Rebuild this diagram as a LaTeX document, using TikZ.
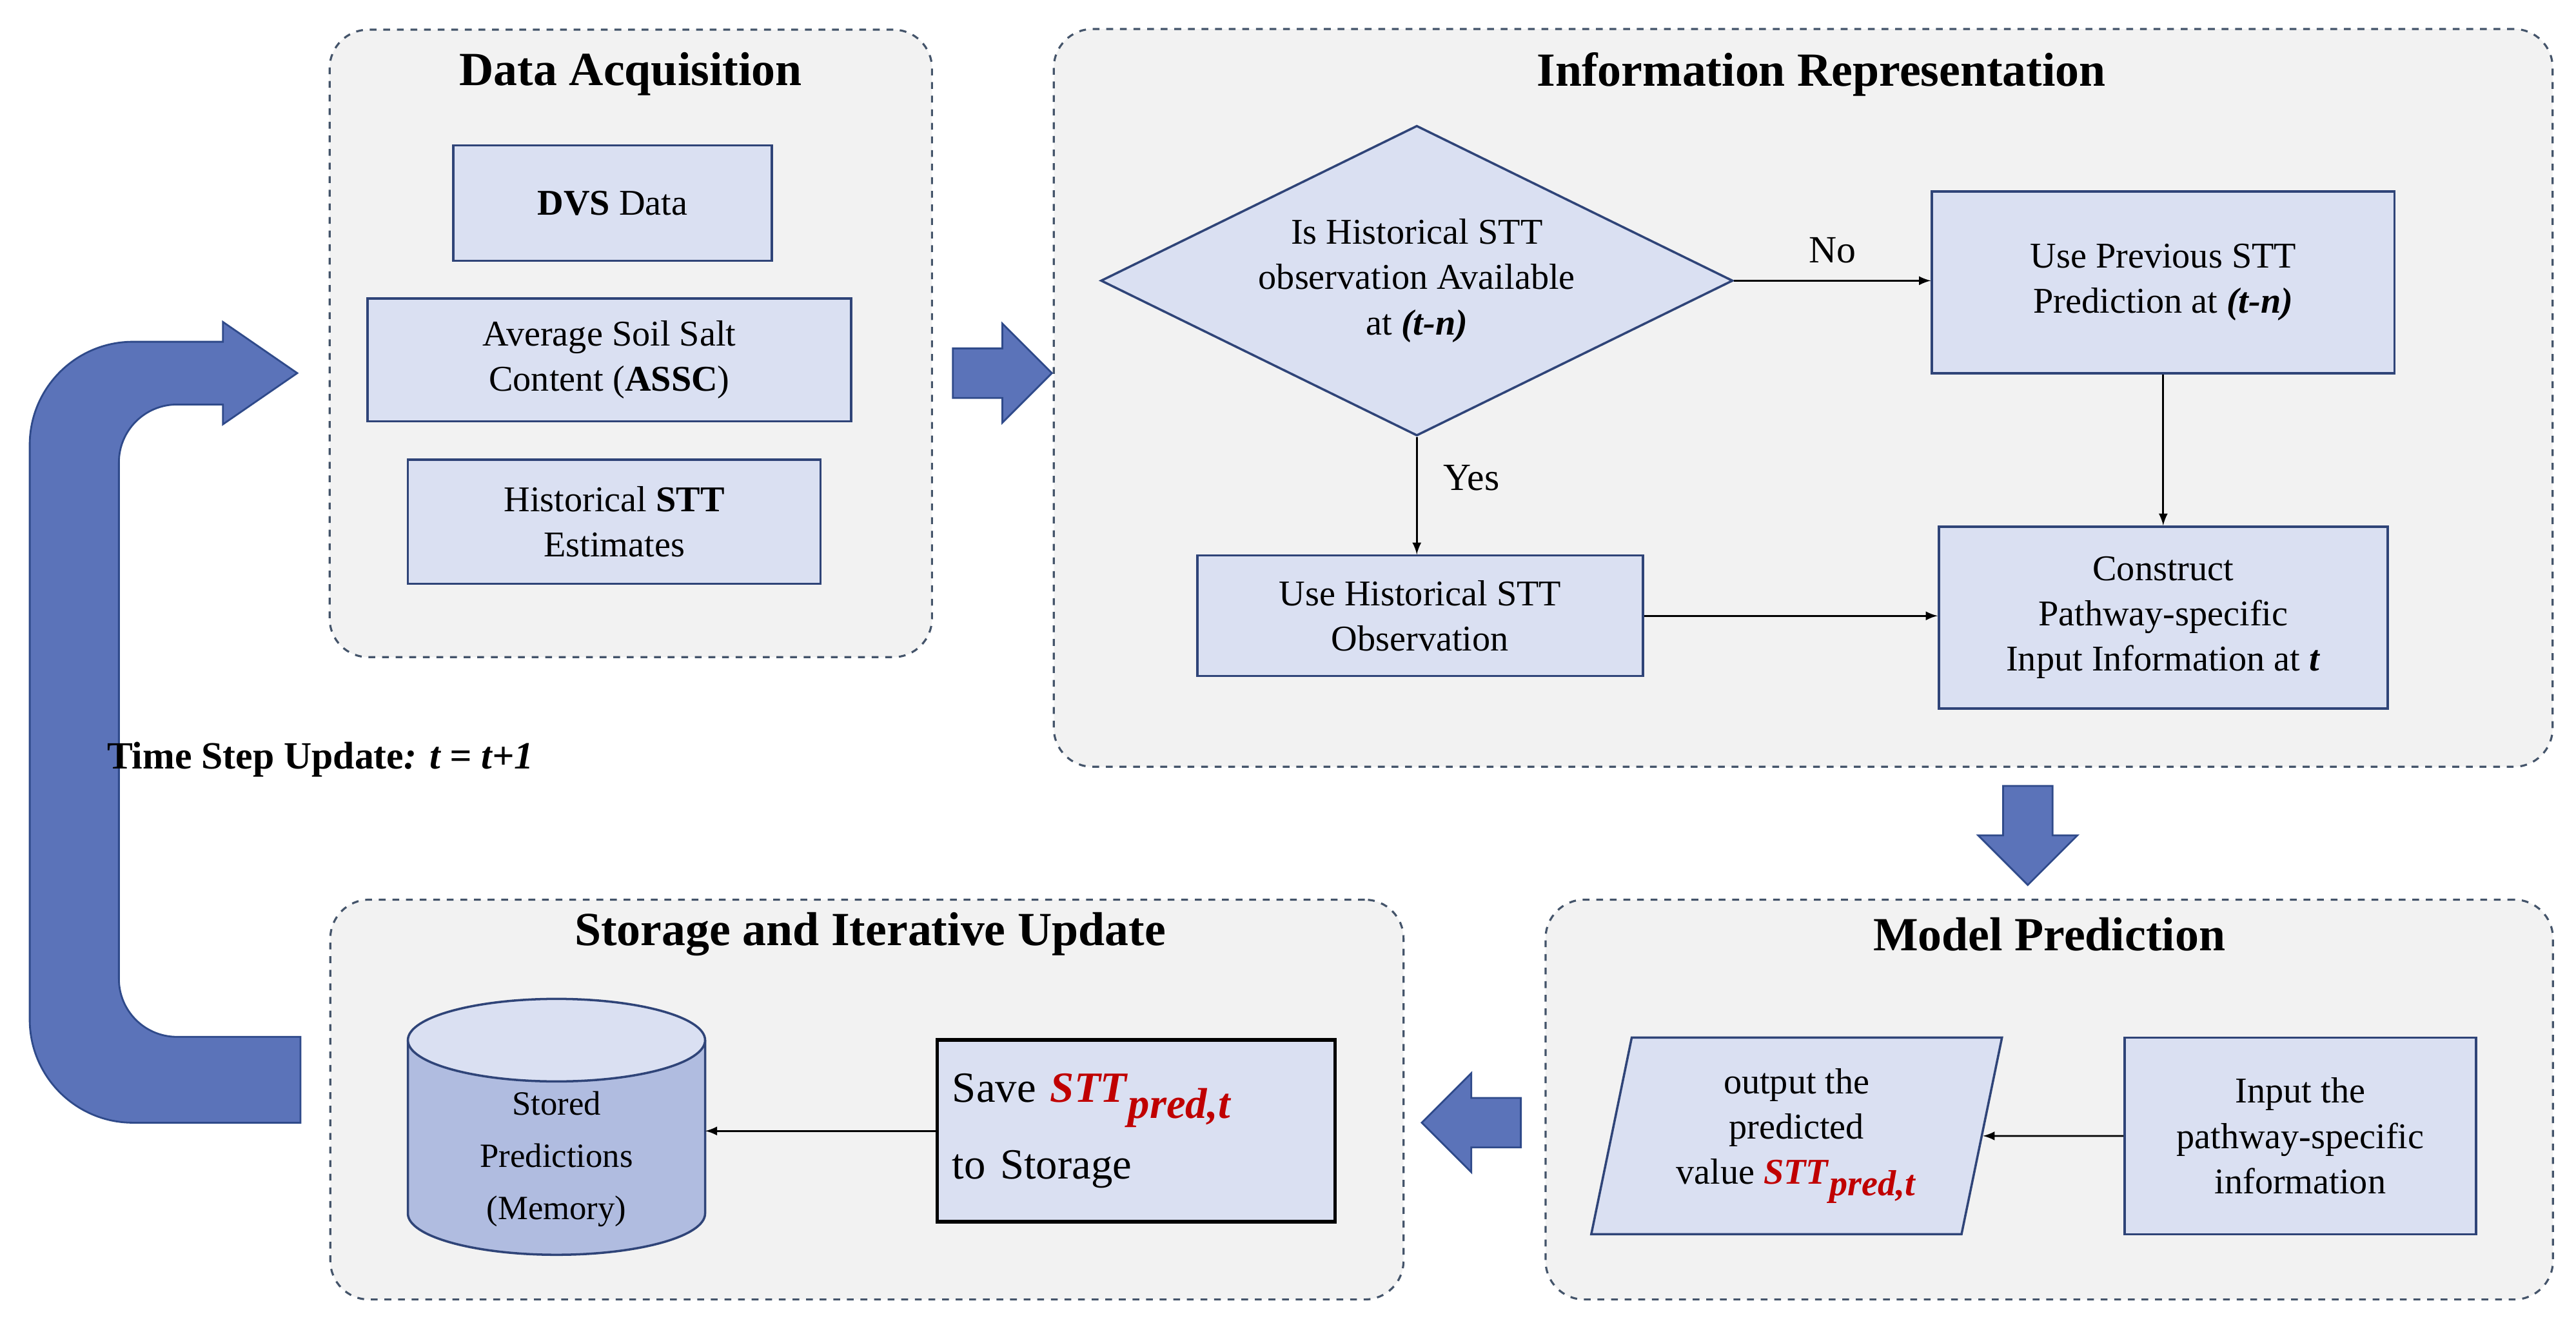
\documentclass[tikz,border=0pt]{standalone}
\usepackage{fontspec}
\setmainfont{Liberation Serif}
\usetikzlibrary{shapes.geometric}
\definecolor{panelfill}{HTML}{F2F2F2}
\definecolor{paneledge}{HTML}{44546A}
\definecolor{boxfill}{HTML}{DAE0F2}
\definecolor{boxedge}{HTML}{2F4478}
\definecolor{arrfill}{HTML}{5B73B9}
\definecolor{arredge}{HTML}{2F4A8A}
\definecolor{cylfill}{HTML}{B0BCE0}
\definecolor{sttred}{HTML}{C00000}
\newcommand{\sttp}{\textcolor{sttred}{\textbf{\textit{STT}}$_{\textbf{\textit{pred,t}}}$}}
\newcommand{\blockarr}[2]{\draw [blk,shift={#1},rotate=#2] (-30,-15) -- (0,-15) -- (0,-30) -- (30,0) -- (0,30) -- (0,15) -- (-30,15) -- cycle;}
\begin{document}
\begin{tikzpicture}[x=0.0256cm,y=-0.0256cm,
  panel/.style={draw=paneledge,fill=panelfill,dashed,line width=0.9pt,rounded corners=0.6cm,inner sep=0},
  title/.style={font=\fontsize{21}{24}\selectfont\bfseries},
  box/.style={draw=boxedge,fill=boxfill,line width=1pt,align=center,font=\fontsize{16}{20}\selectfont,inner sep=2pt},
  blk/.style={draw=arredge,fill=arrfill,line width=0.8pt},
  flow/.style={-latex,line width=0.8pt}]
\useasboundingbox (0,0) rectangle (1560,800);
% panels
\node (DAp) at (382,208) [panel,minimum width=9.34cm,minimum height=9.73cm]{};
\node (IRp) at (1092,241) [panel,minimum width=23.24cm,minimum height=11.44cm]{};
\node (MPp) at (1241,666) [panel,minimum width=15.62cm,minimum height=6.2cm]{};
\node (SUp) at (525,666) [panel,minimum width=16.64cm,minimum height=6.2cm]{};
\node at (382,45) [title]{Data Acquisition};
\node at (1103,45) [title]{Information Representation};
\node at (1241,566) [title]{Model Prediction};
\node at (527,566) [title]{Storage and Iterative Update};
% data acquisition
\node (dvs) at (371,123) [box,minimum width=4.94cm,minimum height=1.79cm]{\textbf{DVS} Data};
\node (assc) at (369,218) [box,minimum width=7.5cm,minimum height=1.9cm]{Average Soil Salt\\Content (\textbf{ASSC})};
\node (hist) at (372,316) [box,minimum width=6.4cm,minimum height=1.92cm]{Historical \textbf{STT}\\Estimates};
% information representation
\node (avail) at (858,170) [box,diamond,aspect=2,minimum width=9.8cm,minimum height=4.81cm,inner sep=0]{Is Historical STT\\observation Available\\at \textbf{\textit{(t-n)}}};
\node (prev) at (1310,171) [box,minimum width=7.17cm,minimum height=2.82cm]{Use Previous STT\\Prediction at \textbf{\textit{(t-n)}}};
\node (obs) at (860,373) [box,minimum width=6.91cm,minimum height=1.87cm]{Use Historical STT\\Observation};
\node (cons) at (1310,374) [box,minimum width=6.96cm,minimum height=2.82cm]{Construct\\Pathway-specific\\Input Information at \textbf{\textit{t}}};
\draw [flow] (avail.east) -- node[above=4pt,font=\fontsize{17}{20}\selectfont]{No} (avail.east -| prev.west);
\draw [flow] (avail.south) -- node[right=8pt,pos=0.35,font=\fontsize{17}{20}\selectfont]{Yes} (avail.south |- obs.north);
\draw [flow] (prev) -- (cons);
\draw [flow] (obs) -- (obs -| cons.west);
% model prediction
\node (inp) at (1393,688) [box,minimum width=5.45cm,minimum height=3.05cm]{Input the\\pathway-specific\\information};
\node (outp) at (1088,688) [box,trapezium,trapezium left angle=78,trapezium right angle=102,trapezium stretches,minimum width=6.37cm,minimum height=3.05cm]{output the\\predicted\\value \sttp};
\draw [flow] (inp) -- (outp);
% storage
\draw [boxedge,fill=cylfill,line width=1pt] (247,630) -- (247,735) arc[start angle=180,end angle=0,x radius=90,y radius=25] -- (427,630);
\draw [boxedge,fill=boxfill,line width=1pt] (337,630) ellipse[x radius=90,y radius=25];
\node (mem) at (337,702) [align=center,font=\fontsize{15}{23}\selectfont,minimum width=4.6cm]{Stored\\Predictions\\(Memory)};
\node (save) at (688,685) [box,draw=black,line width=1.6pt,align=left,minimum width=6.17cm,minimum height=2.82cm,font=\fontsize{19}{34}\selectfont,text width=5.7cm]{Save \sttp\\to Storage};
\draw [flow] (save.west) -- (save.west -| mem.east);
% block arrows
\blockarr{(607,226)}{0}
\blockarr{(1228,506)}{-90}
\blockarr{(891,680)}{180}
\draw [blk] (182,628) [rounded corners=0.9cm] -- (72,628) -- (72,245) [sharp corners] -- (135,245) -- (135,257) -- (180,226) -- (135,195) -- (135,207) [rounded corners=1.6cm] -- (18,207) -- (18,680) [sharp corners] -- (182,680) -- cycle;
\node at (60,460) [anchor=west,font=\fontsize{17}{20}\selectfont\bfseries]{Time Step Update\textit{: t = t+1}};
\end{tikzpicture}
\end{document}
